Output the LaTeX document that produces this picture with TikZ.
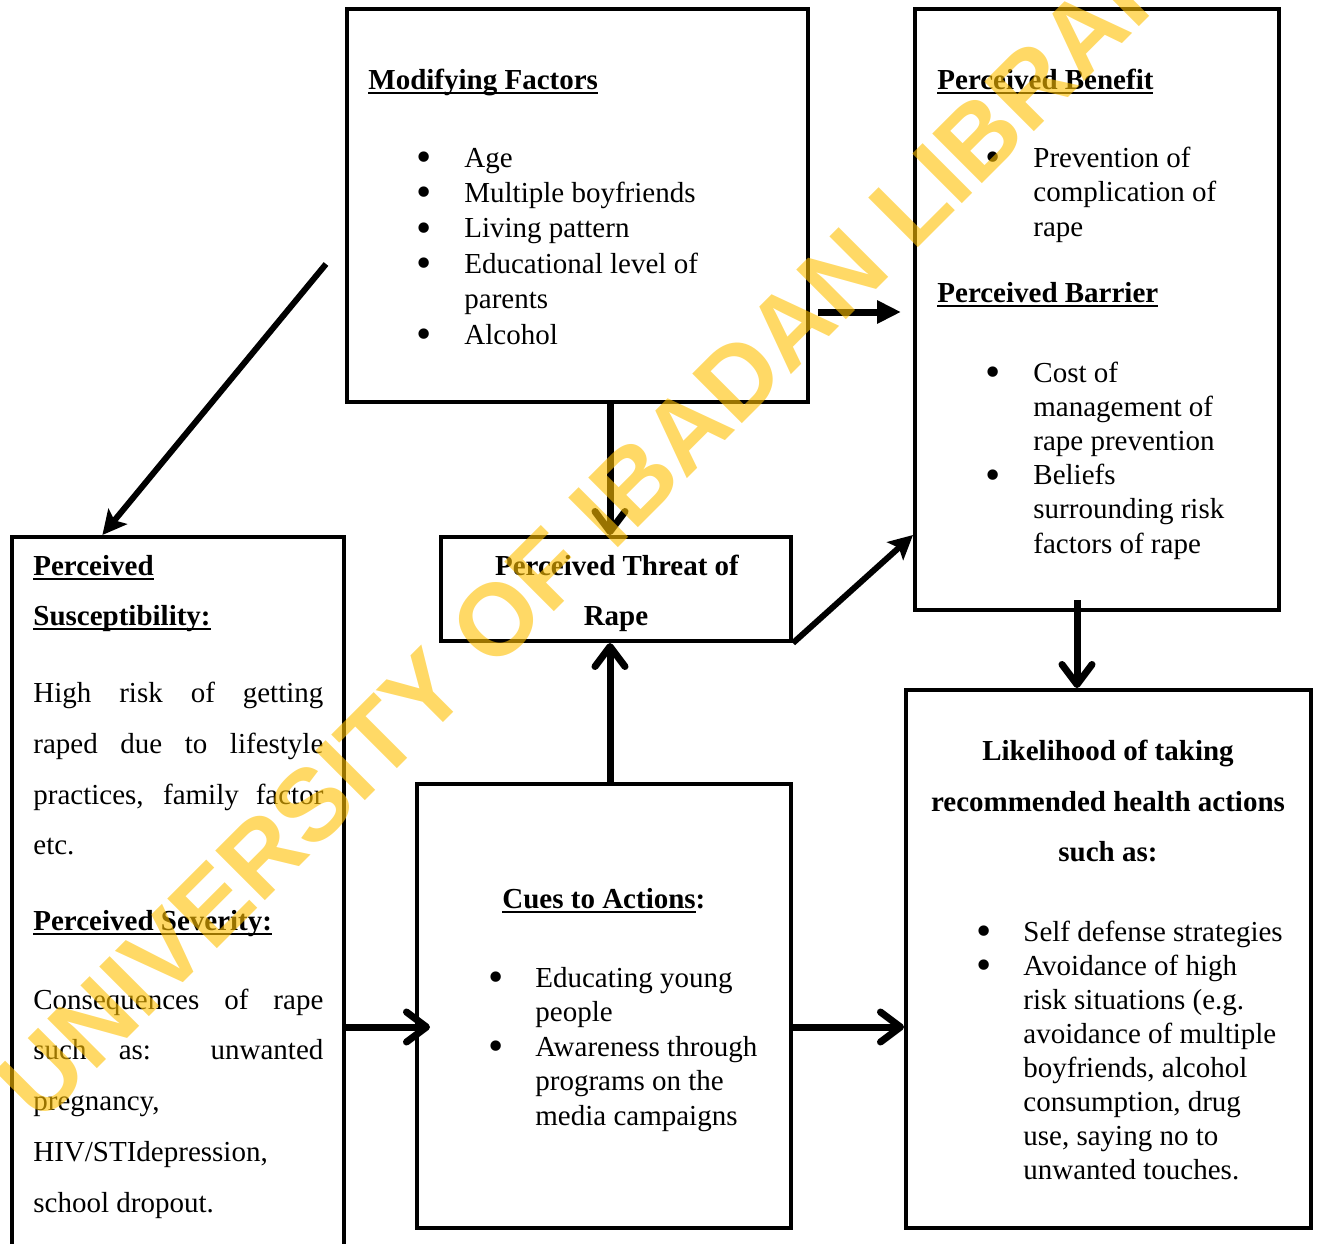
\documentclass[tikz,border=0pt]{standalone}
\usepackage{fontspec}
\setmainfont{Liberation Serif}
\newfontfamily\wmfont{Liberation Sans}
\usetikzlibrary{arrows.meta,calc,fit}
\definecolor{wmyellow}{RGB}{255,192,0}
\newcommand\myul[1]{\setbox0=\hbox{#1}\rlap{\rule[-2.6pt]{\wd0}{1pt}}\box0}
\newcommand\bodyfont{\fontsize{14.5pt}{17.3pt}\selectfont}
\newcommand\jline[1]{\makebox[145pt][s]{#1}}
\newcommand\bul{\raisebox{-2.2pt}{\scalebox{1.5}{\textbullet}}}
\tikzset{
  box/.style={draw, line width=2pt, inner sep=0pt},
  txt/.style={inner sep=0pt, anchor=base west, font=\bodyfont},
  chev/.style={line width=3.5pt, -{Straight Barb[length=10pt,width=15pt,round]}},
  tri/.style={line width=3.5pt, -{Triangle[length=12pt,width=11pt]}},
  stl/.style={line width=3pt, -{Stealth[length=12pt,width=12pt,inset=2.5pt]}},
}
\begin{document}
\begin{tikzpicture}[x=0.5pt,y=-0.5pt]
\useasboundingbox (0,0) rectangle (1318,1243);
\clip (0,0) rectangle (1318,1243);

% boxes
\node[box, fit={(347,9)(808,402)}] (mf) {};
\node[box, fit={(915,9)(1279,610)}] (bb) {};
\node[box, fit={(12,537)(344,1262)}] (ps) {};
\node[box, fit={(441,537)(791,641)}] (pt) {};
\node[box, fit={(417,784)(791,1228)}] (ca) {};
\node[box, fit={(906,690)(1311,1228)}] (lk) {};

% helper coordinates
\coordinate (ax) at (610,0);
\coordinate (bx) at (1077,0);
\coordinate (ay) at (0,1027);
\coordinate (dstart) at (326,264);
\coordinate (mfout) at (818,312);

% Modifying factors
\node[txt] (mfh) at (368,89) {\myul{\bfseries Modifying Factors}};
\node[txt] (mfl) at (416,167) {\fontsize{14.5pt}{17.7pt}\selectfont
  \begin{tabular}[t]{@{}p{24pt}@{}l@{}}
  \bul & Age\\
  \bul & Multiple boyfriends\\
  \bul & Living pattern\\
  \bul & Educational level of\\
   & parents\\
  \bul & Alcohol
  \end{tabular}};

% Benefit / Barrier
\node[txt] (bbh1) at (937,89) {\myul{\bfseries Perceived Benefit}};
\node[txt] (bbl1) at (985,167) {\fontsize{14.5pt}{17.25pt}\selectfont
  \begin{tabular}[t]{@{}p{24pt}@{}l@{}}
  \bul & Prevention of\\
   & complication of\\
   & rape
  \end{tabular}};
\node[txt] (bbh2) at (937,302) {\myul{\bfseries Perceived Barrier}};
\node[txt] (bbl2) at (985,382) {\fontsize{14.5pt}{17.1pt}\selectfont
  \begin{tabular}[t]{@{}p{24pt}@{}l@{}}
  \bul & Cost of\\
   & management of\\
   & rape prevention\\
  \bul & Beliefs\\
   & surrounding risk\\
   & factors of rape
  \end{tabular}};

% Perceived susceptibility / severity
\node[txt] (ps1) at (33,575) {\myul{\bfseries Perceived}};
\node[txt] (ps2) at (33,625) {\myul{\bfseries Susceptibility:}};
\node[txt] (ps3) at (33,702) {\jline{High risk of getting}};
\node[txt] (ps4) at (33,753) {\jline{raped due to lifestyle}};
\node[txt] (ps5) at (33,804) {\jline{practices, family factor}};
\node[txt] (ps6) at (33,854) {etc.};
\node[txt] (ps7) at (33,930) {\myul{\bfseries Perceived Severity:}};
\node[txt] (ps8) at (33,1009) {\jline{Consequences of rape}};
\node[txt] (ps9) at (33,1059) {\jline{such as: unwanted}};
\node[txt] (ps10) at (33,1110) {pregnancy,};
\node[txt] (ps11) at (33,1161) {HIV/STIdepression,};
\node[txt] (ps12) at (33,1212) {school dropout.};

% Perceived threat
\node[txt, anchor=base] (pt1) at (617,575) {\bfseries Perceived Threat of};
\node[txt, anchor=base] (pt2) at (616,625) {\bfseries Rape};

% Cues to actions
\node[txt] (cah) at (502,908) {\bfseries\myul{Cues to Actions}:};
\node[txt] (cal) at (488,987) {\fontsize{14.5pt}{17.25pt}\selectfont
  \begin{tabular}[t]{@{}p{23.5pt}@{}l@{}}
  \bul & Educating young\\
   & people\\
  \bul & Awareness through\\
   & programs on the\\
   & media campaigns
  \end{tabular}};

% Likelihood
\node[txt, anchor=base] (lk1) at (1108,760) {\bfseries Likelihood of taking};
\node[txt, anchor=base] (lk2) at (1108,811) {\bfseries recommended health actions};
\node[txt, anchor=base] (lk3) at (1108,861) {\bfseries such as:};
\node[txt] (lkl) at (976,941) {\fontsize{14.5pt}{17pt}\selectfont
  \begin{tabular}[t]{@{}p{23.5pt}@{}l@{}}
  \bul & Self defense strategies\\
  \bul & Avoidance of high\\
   & risk situations (e.g.\\
   & avoidance of multiple\\
   & boyfriends, alcohol\\
   & consumption, drug\\
   & use, saying no to\\
   & unwanted touches.
  \end{tabular}};

% connectors
\draw[stl] (dstart) -- ($(ps.north west)!0.275!(ps.north east)$);
\draw[tri, shorten >=6pt] (mfout) -- (mfout -| bb.west);
\draw[chev] (mf.south -| ax) -- (pt.north -| ax);
\draw[chev] (ca.north -| ax) -- (pt.south -| ax);
\draw[stl] (pt.south east) -- (pt.north -| bb.west);
\draw[chev] ($(bb.south -| bx)+(0,-12)$) -- (lk.north -| bx);
\draw[chev] (ps.east |- ay) -- ($(ca.west |- ay)+(15,0)$);
\draw[chev] (ca.east |- ay) -- (lk.west |- ay);

% watermark
\node[inner sep=0pt, anchor=base west, rotate=45, text=wmyellow, opacity=0.6,
  font=\wmfont\bfseries\fontsize{51pt}{51pt}\selectfont] (wm) at (40,1126)
  {UNIVERSITY OF IBADAN LIBRARY};
\end{tikzpicture}
\end{document}
